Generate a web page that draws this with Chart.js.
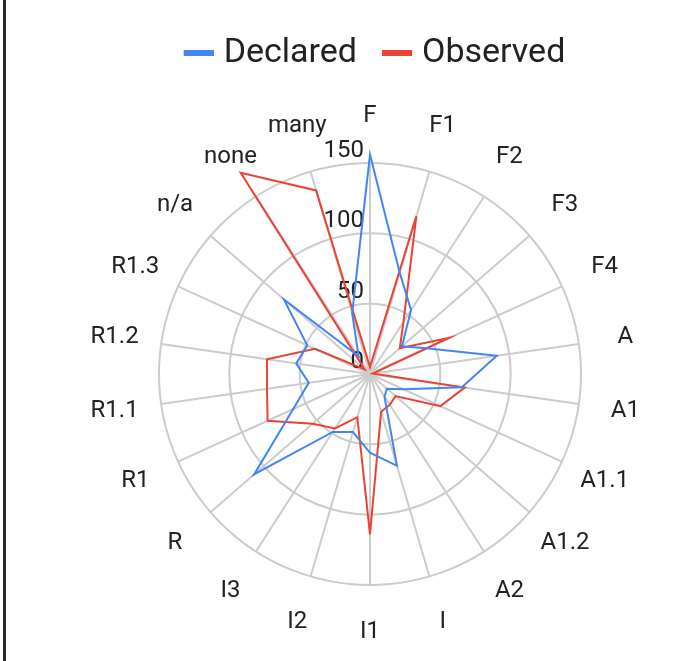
<!DOCTYPE html>
<html>
<head>
<meta charset="utf-8">
<script src="https://cdn.jsdelivr.net/npm/chart.js@4.4.1/dist/chart.umd.min.js"></script>
<style>
  html, body { margin: 0; padding: 0; width: 685px; height: 661px; overflow: hidden; background: #fff; }
  #wrap { position: absolute; left: 0; top: 0; width: 740px; height: 661px; }
  #edge { position: absolute; left: 3px; top: 0; width: 3px; height: 661px; background: #2b2b2b; z-index: 2; }
</style>
</head>
<body>
<div id="edge"></div>
<div id="wrap"><canvas id="c" width="740" height="661" style="width:740px;height:661px"></canvas></div>
<script>
const categories = ['F','F1','F2','F3','F4','A','A1','A1.1','A1.2','A2','I','I1','I2','I3','R','R1','R1.1','R1.2','R1.3','n/a','none','many'];
const declared = [156,75,54,30,44,91,66,26,16,19,68,56,43,49,109,60,44,53,49,81,15,45];
const observed = [5,117,44,28,62,2,68,55,24,26,28,114,32,46,54,80,74,74,43,5,170,136];
const tickValues = [0,50,100,150];
const seriesNames = ['Declared','Observed'];

const BLUE = '#4285F4';
const RED = '#EA4335';
const TEXT = '#222222';
const FONT = 'Roboto';

// legend swatch: 30x6 bar, with a transparent lead-in so the bar sits closer to its text
function legendSwatch(color) {
  const c = document.createElement('canvas');
  c.width = 46; c.height = 6;
  const g = c.getContext('2d');
  g.fillStyle = color;
  g.fillRect(16, 0, 30, 6);
  return c;
}

const customLabels = {
  id: 'customLabels',
  beforeDatasetsDraw(chart) {
    const s = chart.scales.r;
    const ctx = chart.ctx;
    ctx.save();
    ctx.font = '24px ' + FONT;
    ctx.fillStyle = TEXT;
    ctx.textAlign = 'right';
    ctx.textBaseline = 'alphabetic';
    s.ticks.forEach(t => {
      const d = s.getDistanceFromCenterForValue(t.value);
      ctx.fillText(String(t.value), s.xCenter - 6, s.yCenter - d - 6);
    });
    ctx.restore();
  },
  afterDraw(chart) {
    const s = chart.scales.r;
    const ctx = chart.ctx;
    ctx.save();
    ctx.font = '24px ' + FONT;
    ctx.fillStyle = TEXT;
    ctx.textAlign = 'center';
    ctx.textBaseline = 'middle';
    categories.forEach((lab, i) => {
      const p = s.getPointPosition(i, s.drawingArea + 47);
      ctx.fillText(lab, p.x, p.y);
    });
    ctx.restore();
  }
};

new Chart(document.getElementById('c'), {
  type: 'radar',
  data: {
    labels: categories,
    datasets: [
      { label: seriesNames[0], data: declared, borderColor: BLUE, backgroundColor: BLUE, borderWidth: 2, fill: false, pointRadius: 0, pointHoverRadius: 0, pointStyle: legendSwatch(BLUE), tension: 0, clip: false },
      { label: seriesNames[1], data: observed, borderColor: RED, backgroundColor: RED, borderWidth: 2, fill: false, pointRadius: 0, pointHoverRadius: 0, pointStyle: legendSwatch(RED), tension: 0, clip: false }
    ]
  },
  options: {
    responsive: false,
    animation: false,
    layout: { padding: { top: 20, bottom: 76, left: 0, right: 0 } },
    plugins: {
      legend: {
        position: 'top',
        labels: { font: { family: FONT, size: 34 }, color: TEXT, usePointStyle: true, pointStyleWidth: 32, padding: 16 }
      },
      subtitle: { display: true, text: '', weight: 500, font: { size: 10 }, padding: { top: 0, bottom: 71 } },
      tooltip: { enabled: false }
    },
    scales: {
      r: {
        min: 0,
        max: 150,
        afterBuildTicks: (s) => { s.ticks = tickValues.map(v => ({ value: v })); },
        ticks: { display: false },
        pointLabels: { display: false },
        grid: { circular: true, color: '#cccccc', lineWidth: 2 },
        angleLines: { color: '#cccccc', lineWidth: 2 }
      }
    }
  },
  plugins: [customLabels]
});
</script>
</body>
</html>
